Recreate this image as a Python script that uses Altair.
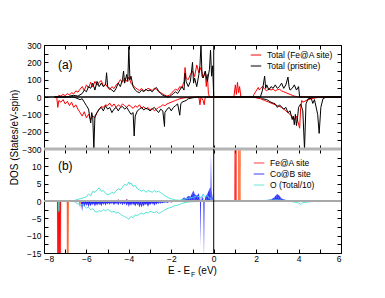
import altair as alt
import pandas as pd

# ---------------- panel (a): total DOS ----------------
FE_UP = [(-7.5,0),(-7.35,0),(-7.3,10),(-7.2,5),(-7.1,15),(-7.0,8),(-6.9,20),(-6.8,12),(-6.7,25),(-6.6,18),
         (-6.5,35),(-6.4,28),(-6.3,45),(-6.2,60),(-6.1,38),(-6.0,70),(-5.9,52),(-5.8,85),(-5.7,58),(-5.6,90),
         (-5.5,68),(-5.4,85),(-5.3,95),(-5.2,62),(-5.1,75),(-5.0,55),(-4.9,42),(-4.8,60),(-4.7,48),(-4.6,70),
         (-4.5,80),(-4.4,100),(-4.3,85),(-4.2,110),(-4.1,90),(-4.0,115),(-3.9,80),(-3.8,65),(-3.7,55),(-3.6,45),
         (-3.5,38),(-3.4,50),(-3.3,35),(-3.2,40),(-3.1,50),(-3.0,44),(-2.9,38),(-2.8,50),(-2.7,45),(-2.6,30),
         (-2.5,25),(-2.4,18),(-2.3,10),(-2.2,5),(-2.1,10),(-2.0,20),(-1.9,35),(-1.8,45),(-1.7,38),(-1.6,60),
         (-1.5,52),(-1.4,90),(-1.35,170),(-1.3,110),(-1.2,100),(-1.1,130),(-1.0,150),(-0.9,118),(-0.8,185),
         (-0.7,140),(-0.6,170),(-0.5,110),(-0.4,140),(-0.35,60),(-0.3,130),(-0.25,20),(-0.2,0),
         (0.95,0),(1.02,70),(1.07,15),(1.12,85),(1.17,25),(1.22,60),(1.28,0),
         (1.85,0),(1.9,15),(2.0,35),(2.1,55),(2.15,40),(2.2,48),(2.3,62),(2.4,45),(2.5,35),(2.6,50),(2.7,40),
         (2.8,46),(2.9,35),(3.0,42),(3.1,45),(3.2,35),(3.3,30),(3.4,25),(3.5,20),(3.6,15),(3.7,10),(3.8,5),
         (4.0,0),(6.0,0)]

FE_DN = [(-7.5,0),(-7.4,0),(-7.35,-60),(-7.3,-20),(-7.2,-30),(-7.1,-15),(-7.0,-40),(-6.9,-25),(-6.8,-50),
         (-6.7,-30),(-6.6,-60),(-6.5,-45),(-6.4,-70),(-6.3,-90),(-6.2,-110),(-6.1,-85),(-6.0,-120),(-5.9,-100),
         (-5.8,-130),(-5.7,-110),(-5.6,-120),(-5.5,-90),(-5.4,-70),(-5.3,-55),(-5.2,-60),(-5.1,-45),(-5.0,-50),
         (-4.9,-35),(-4.8,-55),(-4.7,-40),(-4.6,-60),(-4.5,-45),(-4.4,-55),(-4.3,-40),(-4.2,-50),(-4.1,-60),
         (-4.0,-45),(-3.9,-55),(-3.8,-65),(-3.7,-50),(-3.6,-60),(-3.5,-45),(-3.4,-65),(-3.3,-55),(-3.2,-70),
         (-3.1,-60),(-3.0,-75),(-2.9,-65),(-2.8,-80),(-2.7,-70),(-2.6,-60),(-2.5,-55),(-2.4,-45),(-2.3,-50),
         (-2.2,-40),(-2.1,-35),(-2.0,-30),(-1.9,-25),(-1.8,-20),(-1.7,-15),(-1.6,-10),(-1.5,-8),(-1.4,-5),
         (-1.2,-3),(-1.0,0),(-0.7,0),(-0.65,-45),(-0.6,0),(-0.5,-20),(-0.45,-45),(-0.4,0),
         (1.9,0),(2.0,-5),(2.2,-10),(2.4,-20),(2.6,-30),(2.8,-40),(3.0,-50),(3.2,-60),(3.4,-80),(3.6,-100),
         (3.8,-130),(3.9,-110),(4.05,-180),(4.1,-60),(4.15,-20),(4.2,-30),(4.4,-18),(4.6,-10),(4.8,-5),
         (5.0,0),(6.0,0)]

PR_UP = [(-7.5,0),(-6.9,0),(-6.8,5),(-6.6,10),(-6.4,5),(-6.2,20),(-6.1,40),(-6.0,30),(-5.9,60),(-5.8,50),
         (-5.7,80),(-5.6,40),(-5.5,90),(-5.4,60),(-5.3,80),(-5.2,60),(-5.1,70),(-5.05,140),(-5.0,60),(-4.9,50),
         (-4.8,40),(-4.7,30),(-4.6,50),(-4.5,80),(-4.4,60),(-4.3,100),(-4.25,150),(-4.2,80),(-4.1,130),
         (-4.05,90),(-4.0,290),(-3.95,100),(-3.9,120),(-3.8,60),(-3.7,40),(-3.6,30),(-3.5,25),(-3.4,40),
         (-3.3,30),(-3.2,45),(-3.1,35),(-3.0,40),(-2.9,30),(-2.8,45),(-2.7,55),(-2.6,35),(-2.5,20),(-2.4,10),
         (-2.3,5),(-2.2,0),(-2.1,0),(-2.0,10),(-1.9,20),(-1.8,30),(-1.7,20),(-1.6,40),(-1.5,60),(-1.4,40),
         (-1.35,137),(-1.3,90),(-1.2,60),(-1.1,90),(-1.0,200),(-0.95,80),(-0.9,110),(-0.8,60),(-0.7,130),
         (-0.65,180),(-0.6,300),(-0.55,120),(-0.5,110),(-0.4,150),(-0.3,90),(-0.2,160),(-0.15,270),
         (-0.1,120),(-0.05,180),(0.0,0),
         (2.2,0),(2.3,40),(2.4,120),(2.45,50),(2.5,70),(2.6,40),(2.7,60),(2.8,50),(2.9,70),(3.0,50),(3.1,60),
         (3.2,80),(3.3,50),(3.4,70),(3.5,115),(3.55,60),(3.6,40),(3.7,50),(3.8,70),(3.9,40),(4.0,60),(4.05,0),
         (6.0,0)]

PR_DN = [(-7.5,0),(-6.6,0),(-6.5,-5),(-6.4,-10),(-6.3,-15),(-6.2,-10),(-6.1,-30),(-6.0,-50),(-5.9,-70),
         (-5.8,-150),(-5.75,-90),(-5.7,-120),(-5.65,-300),(-5.6,-110),(-5.5,-90),(-5.4,-70),(-5.3,-60),
         (-5.2,-80),(-5.1,-50),(-5.0,-70),(-4.9,-60),(-4.8,-90),(-4.7,-70),(-4.6,-60),(-4.5,-80),(-4.4,-60),
         (-4.3,-55),(-4.2,-70),(-4.1,-60),(-4.0,-80),(-3.9,-100),(-3.8,-90),(-3.75,-225),(-3.7,-110),
         (-3.6,-80),(-3.5,-70),(-3.4,-60),(-3.3,-75),(-3.2,-65),(-3.1,-70),(-3.0,-80),(-2.9,-70),(-2.8,-60),
         (-2.7,-75),(-2.6,-90),(-2.5,-70),(-2.4,-80),(-2.32,-170),(-2.3,-90),(-2.2,-70),(-2.1,-60),(-2.0,-80),
         (-1.9,-60),(-1.8,-50),(-1.7,-40),(-1.6,-105),(-1.55,-40),(-1.5,-30),(-1.4,-25),(-1.3,-20),
         (-1.2,-10),(-1.0,-5),(-0.8,0),
         (2.2,0),(2.3,-10),(2.5,-15),(2.7,-30),(2.9,-40),(3.0,-60),(3.1,-45),(3.3,-70),(3.4,-60),(3.5,-90),
         (3.6,-80),(3.7,-130),(3.75,-110),(3.8,-160),(3.85,-100),(3.9,-165),(3.95,-120),(4.0,-60),(4.1,-40),
         (4.2,-80),(4.28,-300),(4.35,-40),(4.45,-10),(4.6,-8),(4.67,-37),(4.75,-15),(4.9,-100),(4.97,-210),
         (5.05,-60),(5.15,-10),(5.3,0),(6.0,0)]

# ---------------- panel (b): projected DOS ----------------
FE_B_UP = [(-7.6,0),(-4.6,0),(-4.5,0.4),(-4.3,0.3),(-4.1,0.5),(-3.9,0.2),(-3.7,0),
           (0.97,0),(0.99,40),(1.07,40),(1.09,0),(2.0,0),(2.2,0.2),(2.4,0),(6.0,0)]
FE_B_DN = [(-7.6,0),(-7.39,0),(-7.38,-40),(-7.2,-40),(-7.19,0),(-6.35,0),(-6.3,-2),(-6.27,0),
           (-3.6,0),(-3.5,-0.4),(-3.4,-0.8),(-3.3,-0.2),(-3.2,0),(6.0,0)]
FE2_B = [(-7.6,0),(-6.93,0),(-6.92,-40),(-6.84,-40),(-6.83,0),(1.14,0),(1.15,40),(1.27,40),(1.28,0),(6.0,0)]

CO_UP = [(-7.6,0),(-1.6,0),(-1.5,0.5),(-1.4,1.0),(-1.3,0.8),(-1.2,1.5),(-1.1,1.2),(-1.0,2.5),(-0.95,3.0),
         (-0.9,2.0),(-0.8,1.5),(-0.7,2.2),(-0.6,1.5),(-0.5,1.8),(-0.4,1.2),(-0.3,2.0),(-0.2,3.5),
         (-0.15,4.0),(-0.13,13.5),(-0.1,3.0),(-0.05,1.0),(0.0,0),
         (2.0,0),(2.4,0.2),(2.7,0.4),(2.85,1.0),(2.95,1.8),(3.0,2.0),(3.1,1.5),(3.2,0.7),(3.4,0.3),
         (3.6,0.1),(4.0,0),(6.0,0)]
CO_DN = [(-7.6,0),(-6.3,0),(-6.2,-3),(-6.15,-1.2),(-6.1,-1.7),(-6.0,-1.4),(-5.9,-1.8),(-5.8,-1.5),
         (-5.7,-1.2),(-5.6,-1.6),(-5.5,-1.4),(-5.4,-1.2),(-5.3,-1.5),(-5.2,-1.1),(-5.1,-1.3),(-5.0,-1.0),
         (-4.9,-1.1),(-4.8,-0.9),(-4.7,-1.2),(-4.6,-1.0),(-4.5,-1.2),(-4.4,-1.0),(-4.3,-1.2),(-4.2,-1.1),
         (-4.1,-1.4),(-4.0,-1.7),(-3.9,-1.4),(-3.8,-1.2),(-3.7,-1.6),(-3.6,-1.2),(-3.5,-1.5),(-3.4,-1.1),
         (-3.3,-1.4),(-3.2,-1.2),(-3.1,-1.7),(-3.0,-1.2),(-2.9,-1.0),(-2.8,-1.4),(-2.7,-1.1),(-2.6,-0.9),
         (-2.5,-0.8),(-2.4,-0.7),(-2.3,-0.6),(-2.2,-0.6),(-2.0,-0.4),(-1.8,-0.3),(-1.6,-0.1),(-1.4,0),
         (-0.65,0),(-0.61,-13),(-0.57,0),(-0.49,0),(-0.46,-17),(-0.43,0),(6.0,0)]

O_UP = [(-7.6,0),(-6.6,0),(-6.5,0.3),(-6.4,0.5),(-6.2,0.8),(-6.0,1.2),(-5.9,2.0),(-5.8,1.5),(-5.7,2.8),
        (-5.6,2.5),(-5.5,3.2),(-5.4,3.8),(-5.3,2.8),(-5.2,3.0),(-5.1,2.2),(-5.0,1.8),(-4.9,2.0),(-4.8,2.5),
        (-4.7,2.2),(-4.6,3.0),(-4.5,3.5),(-4.4,3.2),(-4.3,4.0),(-4.2,4.8),(-4.1,4.5),(-4.0,5.5),(-3.95,4.8),
        (-3.9,5.2),(-3.8,4.2),(-3.7,4.5),(-3.6,3.5),(-3.5,3.2),(-3.4,2.8),(-3.3,3.2),(-3.2,2.5),(-3.1,3.0),
        (-3.0,2.8),(-2.9,2.5),(-2.8,3.0),(-2.7,2.6),(-2.6,2.8),(-2.5,2.4),(-2.4,2.0),(-2.3,1.5),(-2.2,1.2),
        (-2.1,0.8),(-2.0,0.6),(-1.9,0.5),(-1.8,0.3),(-1.6,0.2),(-1.4,0.5),(-1.2,0.8),(-1.0,1.0),(-0.8,1.5),
        (-0.6,1.0),(-0.5,2.0),(-0.4,1.2),(-0.3,1.5),(-0.2,0.8),(-0.1,0.5),(0.0,0),(2.0,0),(2.5,0.2),
        (3.0,0.3),(3.5,0.1),(4.5,0),(6.0,0)]
O_DN = [(-7.6,0),(-7.32,0),(-7.3,-3),(-7.28,0),(-6.6,0),(-6.5,-0.5),(-6.4,-0.8),(-6.3,-1.2),(-6.2,-1.0),
        (-6.1,-1.5),(-6.0,-2.0),(-5.9,-1.8),(-5.8,-2.5),(-5.7,-2.2),(-5.6,-3.0),(-5.5,-3.2),(-5.4,-2.8),
        (-5.3,-3.0),(-5.2,-2.5),(-5.1,-2.8),(-5.0,-2.4),(-4.9,-2.8),(-4.8,-3.2),(-4.7,-3.0),(-4.6,-3.5),
        (-4.5,-3.3),(-4.4,-3.8),(-4.3,-4.2),(-4.2,-4.5),(-4.1,-4.8),(-4.0,-5.3),(-3.9,-4.5),(-3.8,-4.8),
        (-3.7,-4.0),(-3.6,-4.2),(-3.5,-3.8),(-3.4,-3.5),(-3.3,-3.8),(-3.2,-3.2),(-3.1,-3.5),(-3.0,-3.0),
        (-2.9,-3.2),(-2.8,-3.4),(-2.7,-3.0),(-2.6,-3.6),(-2.5,-3.3),(-2.4,-3.0),(-2.3,-2.5),(-2.2,-2.2),
        (-2.1,-2.0),(-2.0,-1.8),(-1.9,-1.5),(-1.8,-1.3),(-1.7,-1.2),(-1.6,-1.0),(-1.5,-0.7),(-1.4,-0.5),
        (-1.2,-0.3),(-1.0,-0.2),(-0.5,-0.1),(0.0,0),(3.5,0),(3.8,-0.3),(4.0,-0.6),(4.1,-1.0),(4.2,-0.5),
        (4.4,-0.3),(4.8,0),(6.0,0)]

A_SERIES = ["Total (Fe@A site)", "Total (pristine)"]
A_COLORS = ["#ff0000", "#000000"]
B_SERIES = ["Fe@A site", "Co@B site", "O (Total/10)"]
B_COLORS = ["#ff0000", "#0000ff", "#40e0d0"]
X_TICKS = [-8, -7, -6, -5, -4, -3, -2, -1, 0, 1, 2, 3, 4, 5, 6]
A_TICKS = [-300, -250, -200, -150, -100, -50, 0, 50, 100, 150, 200, 250, 300]
B_TICKS = [-15, -12.5, -10, -7.5, -5, -2.5, 0, 2.5, 5, 7.5, 10, 12.5]

FONT = "Liberation Sans"
W, H = 297, 104
TK = 4  # inward tick length


def frame(pairs, series, spin):
    return pd.DataFrame({
        "E": [p[0] for p in pairs],
        "DOS": [p[1] for p in pairs],
        "series": series,
        "spin": spin,
        "idx": list(range(len(pairs))),
    })


def tick_axis(orient, values, labels=False, label_expr=None, pad=3, **kw):
    args = dict(orient=orient, values=values, offset=-TK, tickSize=TK, tickColor="black",
                tickWidth=1, domain=False, grid=False, labels=labels, labelOverlap=False,
                title=None)
    if labels:
        args.update(labelFont=FONT, labelFontSize=8.5, labelColor="black", labelPadding=pad)
        if label_expr:
            args["labelExpr"] = label_expr
    args.update(kw)
    return alt.Axis(**args)


xscale = alt.Scale(domain=[-8, 6], nice=False)
ya = alt.Scale(domain=[-300, 300], nice=False)
yb = alt.Scale(domain=[-15, 15], nice=False)

# ---- panel a ----
dfa = pd.concat([
    frame(FE_UP, A_SERIES[0], "up"), frame(FE_DN, A_SERIES[0], "dn"),
    frame(PR_UP, A_SERIES[1], "up"), frame(PR_DN, A_SERIES[1], "dn"),
], ignore_index=True)

lines_a = alt.Chart(dfa).mark_line(strokeWidth=1, clip=True).encode(
    x=alt.X("E:Q", scale=xscale, axis=tick_axis("bottom", X_TICKS)),
    y=alt.Y("DOS:Q", scale=ya,
            axis=tick_axis("left", A_TICKS, labels=True,
                           label_expr="datum.value % 100 == 0 ? datum.label : ''")),
    color=alt.Color("series:N", scale=alt.Scale(domain=A_SERIES, range=A_COLORS),
                    legend=alt.Legend(title=None, orient="none", legendX=206, legendY=4,
                                      symbolType="stroke", symbolSize=110, symbolStrokeWidth=1,
                                      labelFont=FONT, labelFontSize=8.5, labelColor="black",
                                      rowPadding=0, padding=0, labelOffset=5)),
    detail="spin:N",
    order="idx:Q",
)

zero_a = alt.Chart(pd.DataFrame({"DOS": [0]})).mark_rule(color="black", strokeWidth=1.5).encode(
    y=alt.Y("DOS:Q", scale=ya, axis=tick_axis("right", A_TICKS)))
fermi_a = alt.Chart(pd.DataFrame({"E": [0]})).mark_rule(color="black", strokeWidth=1).encode(
    x=alt.X("E:Q", scale=xscale, axis=tick_axis("top", X_TICKS)))
lab_a = alt.Chart(pd.DataFrame({"E": [-7.0], "DOS": [185], "t": ["(a)"]})).mark_text(
    font=FONT, fontSize=12, color="black").encode(
    x=alt.X("E:Q", scale=xscale, axis=None), y=alt.Y("DOS:Q", scale=ya, axis=None), text="t:N")

panel_a = alt.layer(lines_a, zero_a, fermi_a, lab_a).resolve_axis(
    x="independent", y="independent").properties(width=W, height=H)

# ---- panel b ----
dfb_area = pd.concat([
    frame(FE_B_UP, B_SERIES[0], "up"), frame(FE_B_DN, B_SERIES[0], "dn"),
    frame(CO_UP, B_SERIES[1], "up"), frame(CO_DN, B_SERIES[1], "dn"),
], ignore_index=True)
dfb_line = pd.concat([frame(O_UP, B_SERIES[2], "up"), frame(O_DN, B_SERIES[2], "dn")],
                     ignore_index=True)
dfb_fe2 = frame(FE2_B, "Fe2", "x")

color_b = alt.Color("series:N", scale=alt.Scale(domain=B_SERIES, range=B_COLORS),
                    legend=alt.Legend(title=None, orient="none", legendX=209, legendY=8,
                                      symbolType="stroke", symbolSize=110, symbolStrokeWidth=1.5,
                                      symbolOpacity=0.5,
                                      labelFont=FONT, labelFontSize=8.5, labelColor="black",
                                      rowPadding=0, padding=0, labelOffset=5))

areas_b = alt.Chart(dfb_area).mark_area(clip=True, opacity=0.8, strokeWidth=0.5).encode(
    x=alt.X("E:Q", scale=xscale,
            axis=tick_axis("bottom", X_TICKS, labels=True, pad=1,
                           label_expr="datum.value % 2 == 0 ? datum.label : ''")),
    y=alt.Y("DOS:Q", scale=yb,
            axis=tick_axis("left", B_TICKS, labels=True,
                           label_expr="datum.value % 5 == 0 ? datum.label : ''",
                           title="DOS (States/eV-spin)",
                           titleFont=FONT, titleFontSize=10, titleFontWeight="normal",
                           titleColor="black", titleX=-34, titleY=-12, titleBaseline="middle",
                           titleAlign="center", titleAngle=270)),
    color=color_b,
    detail="spin:N",
    order="idx:Q",
)
fe2_b = alt.Chart(dfb_fe2).mark_area(clip=True, opacity=0.8, color="#ff5a1e").encode(
    x=alt.X("E:Q", scale=xscale, axis=None), y=alt.Y("DOS:Q", scale=yb, axis=None), order="idx:Q")
lines_b = alt.Chart(dfb_line).mark_line(clip=True, strokeWidth=1, opacity=0.9).encode(
    x=alt.X("E:Q", scale=xscale, axis=None), y=alt.Y("DOS:Q", scale=yb, axis=None),
    color=color_b, detail="spin:N", order="idx:Q")

zero_b = alt.Chart(pd.DataFrame({"DOS": [0]})).mark_rule(color="#a8a8a8", strokeWidth=2).encode(
    y=alt.Y("DOS:Q", scale=yb, axis=tick_axis("right", B_TICKS)))
top_b = alt.Chart(pd.DataFrame({"DOS": [15]})).mark_rule(color="#b4b4b4", strokeWidth=3).encode(
    y=alt.Y("DOS:Q", scale=yb, axis=None))
fermi_b = alt.Chart(pd.DataFrame({"E": [0]})).mark_rule(color="black", strokeWidth=1).encode(
    x=alt.X("E:Q", scale=xscale, axis=tick_axis("top", X_TICKS)))
lab_b = alt.Chart(pd.DataFrame({"E": [-7.0], "DOS": [10], "t": ["(b)"]})).mark_text(
    font=FONT, fontSize=12, color="black").encode(
    x=alt.X("E:Q", scale=xscale, axis=None), y=alt.Y("DOS:Q", scale=yb, axis=None), text="t:N")

# x-axis title with subscript F
xt1 = alt.Chart(pd.DataFrame({"t": ["E - E"]})).mark_text(
    font=FONT, fontSize=10, color="black", align="left", baseline="alphabetic").encode(
    x=alt.value(124), y=alt.value(H + 21), text="t:N")
xt2 = alt.Chart(pd.DataFrame({"t": ["F"]})).mark_text(
    font=FONT, fontSize=7, color="black", align="left", baseline="alphabetic").encode(
    x=alt.value(147), y=alt.value(H + 24), text="t:N")
xt3 = alt.Chart(pd.DataFrame({"t": ["(eV)"]})).mark_text(
    font=FONT, fontSize=10, color="black", align="left", baseline="alphabetic").encode(
    x=alt.value(154), y=alt.value(H + 21), text="t:N")

panel_b = alt.layer(areas_b, fe2_b, lines_b, zero_b, top_b, fermi_b, lab_b, xt1, xt2, xt3).resolve_axis(
    x="independent", y="independent").properties(width=W, height=H)

chart = alt.vconcat(panel_a, panel_b, spacing=0, bounds="flush").resolve_scale(
    color="independent").resolve_legend(color="independent").properties(
    padding={"left": 0, "top": 32, "right": 0, "bottom": 0}
).configure(background="white").configure_view(stroke="black", strokeWidth=1)

chart.save("out.html", embed_options={"renderer": "svg", "actions": False})
